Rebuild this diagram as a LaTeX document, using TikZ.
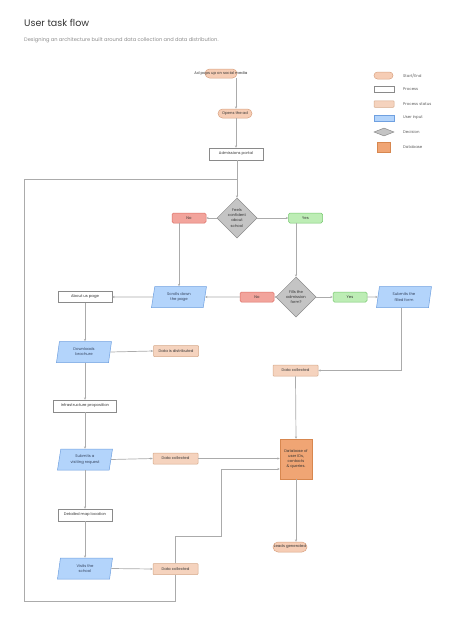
\documentclass[tikz,border=0pt]{standalone}
\usepackage{fontspec}
\setmainfont{Poppins}
\usetikzlibrary{shapes.geometric,arrows.meta,calc}
\definecolor{linegray}{HTML}{ABABAB}
\definecolor{txt}{HTML}{333333}
\definecolor{seFill}{HTML}{F6CDB5}
\definecolor{seDraw}{HTML}{D9A382}
\definecolor{psFill}{HTML}{F5D3BE}
\definecolor{psDraw}{HTML}{D6A98A}
\definecolor{uiFill}{HTML}{B3D4FB}
\definecolor{uiDraw}{HTML}{6FA0E0}
\definecolor{uiTxt}{HTML}{33415C}
\definecolor{dcFill}{HTML}{C4C4C4}
\definecolor{dcDraw}{HTML}{8A8A8A}
\definecolor{dbFill}{HTML}{F0A574}
\definecolor{dbDraw}{HTML}{D7874F}
\definecolor{noFill}{HTML}{F2A49C}
\definecolor{noDraw}{HTML}{DD6F66}
\definecolor{yesFill}{HTML}{BDEDB5}
\definecolor{yesDraw}{HTML}{76C86E}
\tikzset{
  base/.style={inner sep=0pt, line width=0.5pt, text=txt, font=\fontsize{3.8}{5.2}\selectfont, align=center},
  startend/.style={base, draw=seDraw, fill=seFill, rounded corners=4.5pt, minimum height=9pt},
  process/.style={base, draw=dcDraw, fill=white, minimum height=11pt},
  pstatus/.style={base, draw=psDraw, fill=psFill, rounded corners=0.8pt, minimum width=45pt, minimum height=11pt},
  uinput/.style={base, draw=uiDraw, fill=uiFill, text=uiTxt, trapezium, trapezium left angle=70, trapezium right angle=110, trapezium stretches body, minimum width=55pt, minimum height=21pt},
  decision/.style={base, draw=dcDraw, fill=dcFill, diamond, minimum width=40pt, minimum height=40pt},
  database/.style={base, draw=dbDraw, fill=dbFill, minimum width=32pt, minimum height=40pt, text=txt},
  nobox/.style={base, draw=noDraw, fill=noFill, rounded corners=1.5pt, minimum width=34pt, minimum height=10pt},
  yesbox/.style={base, draw=yesDraw, fill=yesFill, rounded corners=1.5pt, minimum width=34pt, minimum height=10pt},
  flow/.style={draw=linegray, line width=0.7pt, -{Stealth[length=2.4pt,width=2.2pt]}},
  plain/.style={draw=linegray, line width=0.7pt},
  legtext/.style={anchor=west, inner sep=0pt, text=txt!80, font=\fontsize{3.9}{5}\selectfont}
}
\begin{document}
\begin{tikzpicture}[x=1pt,y=-1pt]
\useasboundingbox[fill=white] (0,0) rectangle (474,629);

% title
\node[anchor=base west, inner sep=0pt, text=txt, font=\fontsize{9.5}{11}\selectfont] (title) at (24,27) {User task flow};
\node[anchor=base west, inner sep=0pt, text=black!45, font=\fontsize{5.1}{6}\selectfont] (subtitle) at (24,41) {Designing an architecture built around data collection and data distribution.};

% legend
\node[startend, minimum width=19pt, minimum height=7pt, rounded corners=3.5pt] (lse) at (383.5,75.5) {};
\node[legtext] (lset) at (403,75.5) {Start/End};
\node[process, minimum width=20pt, minimum height=6pt] (lpr) at (384,89.5) {};
\node[legtext] (lprt) at (403,89.5) {Process};
\node[pstatus, minimum width=20pt, minimum height=6.5pt] (lps) at (384,104) {};
\node[legtext] (lpst) at (403,104) {Process status};
\node[uinput, minimum width=20pt, minimum height=6.5pt, trapezium left angle=50, trapezium right angle=130] (lui) at (384,118) {};
\node[legtext] (luit) at (403,118) {User input};
\node[decision, minimum width=20pt, minimum height=8pt] (ldc) at (384,132) {};
\node[legtext] (ldct) at (403,132) {Decision};
\node[database, minimum width=13pt, minimum height=10pt] (ldb) at (383.5,147) {};
\node[legtext] (ldbt) at (403,147) {Database};

% top chain
\node[startend, minimum width=32pt] (ad) at (221,73.5) {};
\node[base, text=txt] (adt) at (ad) {Ad pops up on social media};
\node[startend, minimum width=34pt] (opens) at (235,113.5) {Opens the ad};
\node[process, minimum width=54pt, minimum height=12pt] (adm) at (236,154) {Admissions portal};
\coordinate (join) at (237,179);

\node[decision] (d1) at (237,218) {Feels\\confident\\about\\school};
\node[nobox] (no1) at (189,218) {No};
\node[yesbox] (yes1) at (305.5,218) {Yes};

\node[uinput] (scroll) at (179,297) {Scrolls down\\the page};
\node[decision] (d2) at (296,297) {Fills the\\admission\\form?};
\node[nobox] (no2) at (257,297) {No};
\node[yesbox] (yes2) at (350,297) {Yes};
\node[uinput] (sub2) at (404,297) {Submits the\\filled form};

% left column
\node[process, minimum width=54pt] (about) at (85,297) {About us page};
\node[uinput] (dl) at (84,352) {Downloads\\brochure};
\node[pstatus] (dist) at (176,351) {Data is distributed};
\node[process, minimum width=63pt, minimum height=12pt] (infra) at (85,406) {Infrastructure proposition};
\node[uinput] (svr) at (85,459.5) {Submits a\\visiting request};
\node[pstatus] (dcmid) at (175.5,458.5) {Data collected};
\node[process, minimum width=54pt, minimum height=12pt] (map) at (85,515) {Detailed map location};
\node[uinput] (visit) at (85,568.5) {Visits the\\school};
\node[pstatus] (dcbot) at (175.5,569) {Data collected};

% right column
\node[pstatus] (dcright) at (295.5,370.5) {Data collected};
\node[database] (db) at (296,459) {Database of\\user IDs,\\contacts\\\& queries.};
\node[startend, minimum width=34pt, minimum height=10pt, rounded corners=5pt] (leads) at (290,547) {};
\node[base, text=txt] (leadst) at (leads) {Leads generated};

% connectors
\draw[flow] (ad.south -| adm.north) -- (opens.north -| adm.north);
\draw[flow] (opens.south -| adm.north) -- (adm.north);
\draw[flow] (adm.south -| d1.north) -- (d1.north);
\draw[flow] (d1.west) -- (no1.east);
\draw[flow] (d1.east) -- (yes1.west);
\draw[flow] (scroll.north |- no1.south) -- (scroll.north);
\draw[flow] (d2.north |- yes1.south) -- (d2.north);
\draw[flow] (d2.west) -- (no2.east);
\draw[flow] (no2.west) -- (scroll.east);
\draw[flow] (d2.east) -- (yes2.west);
\draw[flow] (yes2.east) -- (sub2.west);
\draw[flow] (scroll.west) -- (about.east);
\draw[flow] (about.south) -- (about.south |- dl.north);
\draw[flow] (about.south |- dl.south) -- (about.south |- infra.north);
\draw[flow] (infra.south) -- (infra.south |- svr.north);
\draw[flow] (infra.south |- svr.south) -- (map.north);
\draw[flow] (map.south) -- (map.south |- visit.north);
\draw[flow] (dl.east) -- (dist.west);
\draw[flow] (svr.east) -- (dcmid.west);
\draw[flow] (visit.east) -- (dcbot.west);
\draw[flow] (sub2.south -| 401,0) |- (dcright.east);
\draw[flow] (dcright.south) -- (db.north);
\draw[flow] (db.south) -- (db.south |- leads.north);
\draw[flow] (dcmid.east) -- (dcmid.east -| db.west);
\draw[flow] (dcbot.north) |- (221,536) |- ($(db.west)+(0,10)$);
\draw[plain] (dcbot.south) |- (24,601) |- (join);
\end{tikzpicture}
\end{document}
